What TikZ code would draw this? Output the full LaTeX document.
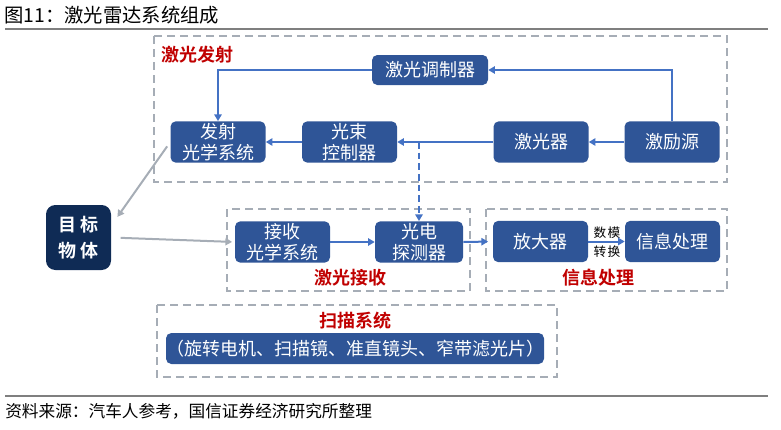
\documentclass[tikz,border=0pt]{standalone}
\usepackage{fontspec}
\setmainfont{Noto Sans CJK SC}[BoldFont={Noto Sans CJK SC Bold}]
\usetikzlibrary{arrows.meta, positioning}
\definecolor{lidBlue}{HTML}{2F5597}
\definecolor{lidNavy}{HTML}{0F2B55}
\definecolor{lidArrow}{HTML}{4472C4}
\definecolor{lidGrey}{HTML}{A6ADB6}
\definecolor{lidRed}{HTML}{C00000}
\definecolor{lidRule}{HTML}{7F7F7F}
\tikzset{
  every node/.style={font=\fontsize{13.5}{16}\selectfont},
  arr/.style={-{Triangle[length=5pt, width=5.5pt]}, line width=1.5pt, draw=lidArrow},
  arrd/.style={arr, dash pattern=on 5pt off 3pt},
  arrg/.style={-{Triangle[length=5pt, width=5.5pt]}, line width=1.5pt, draw=lidGrey},
  blk/.style={fill=lidBlue, text=white, rounded corners=4pt, inner sep=0pt, align=center,
              minimum width=71.25pt, minimum height=31pt},
  grp/.style={draw=lidGrey, line width=1.5pt, dash pattern=on 6pt off 3.75pt},
  tag/.style={text=lidRed, font=\fontsize{13.5}{15}\selectfont\bfseries},
  rule/.style={draw=lidRule, line width=1.8pt},
}

\begin{document}
\begin{tikzpicture}[x=0.75pt, y=-0.75pt]
  \useasboundingbox (0,0) rectangle (781,429);
  % header and footer
  \node[anchor=west, inner sep=0pt, font=\fontsize{14.5}{16}\selectfont] (title) at (4,15) {图11：激光雷达系统组成};
  \draw[rule] (5,29) -- (768,29);
  \draw[rule] (5,396) -- (768,396);
  \node[anchor=west, inner sep=0pt, font=\fontsize{12.5}{15}\selectfont] (src) at (5,411) {资料来源：汽车人参考，国信证券经济研究所整理};
  % groups
  \draw[grp] (154,36) rectangle (727,182);
  \draw[grp] (227,209) rectangle (470,291);
  \draw[grp] (486,209) rectangle (727,291);
  \draw[grp] (157,305) rectangle (557,377);
  \node[tag] (emitTag) at (197,55) {激光发射};
  \node[tag] (recvTag) at (350,278) {激光接收};
  \node[tag] (infoTag) at (598,278) {信息处理};
  \node[tag] (scanTag) at (355,321) {扫描系统};
  % emission
  \node[blk, minimum width=87pt, minimum height=22.5pt] (mod) at (430,70) {激光调制器};
  \node[blk] (emit) at (218,142) {发射\\光学系统};
  \node[blk] (beam) at (349.5,142) {光束\\控制器};
  \node[blk] (laser) at (541,142) {激光器};
  \node[blk] (pump) at (672,142) {激励源};
  % target
  \node[fill=lidNavy, text=white, rounded corners=7pt, inner sep=0pt, align=center,
        minimum width=48.75pt, minimum height=48.75pt,
        font=\fontsize{13.5}{20}\selectfont\bfseries] (target) at (78.5,237.5) {目\hspace{3pt}标\\物\hspace{3pt}体};
  % receiving and processing
  \node[blk] (recv) at (282.5,242) {接收\\光学系统};
  \node[blk, minimum width=66pt] (det) at (419,242) {光电\\探测器};
  \node[blk] (amp) at (540.5,241.5) {放大器};
  \node[blk] (info) at (672.5,241.5) {信息处理};
  \node[font=\fontsize{9.5}{11}\selectfont, inner sep=0pt] (daTop) at (607,233) {数\hspace{1pt}模};
  \node[font=\fontsize{9.5}{11}\selectfont, inner sep=0pt] (daBot) at (607,252) {转\hspace{1pt}换};
  % scanning
  \node[blk, minimum width=282pt, minimum height=23.25pt] (scan) at (355,348.5) {（旋转电机、扫描镜、准直镜头、窄带滤光片）};
  % connectors
  \draw[arr] (pump.north) |- (mod.east);
  \draw[arr] (mod.west) -| (emit.north);
  \draw[arr] (pump.west) -- (laser.east);
  \draw[arr] (laser.west) -- (beam.east);
  \draw[arr] (beam.west) -- (emit.east);
  \draw[arrd] (det.north |- beam.east) -- (det.north);
  \draw[arr] (recv.east) -- (det.west);
  \draw[arr, shorten >=3.5pt] (det.east) -- (amp.west);
  \draw[arr] (amp.east) -- (info.west);
  \draw[arrg, shorten <=4pt, shorten >=8pt] (emit.west) -- (target.20);
  \draw[arrg, shorten <=7pt, shorten >=2pt] (target.east) -- (recv.west);
\end{tikzpicture}
\end{document}
